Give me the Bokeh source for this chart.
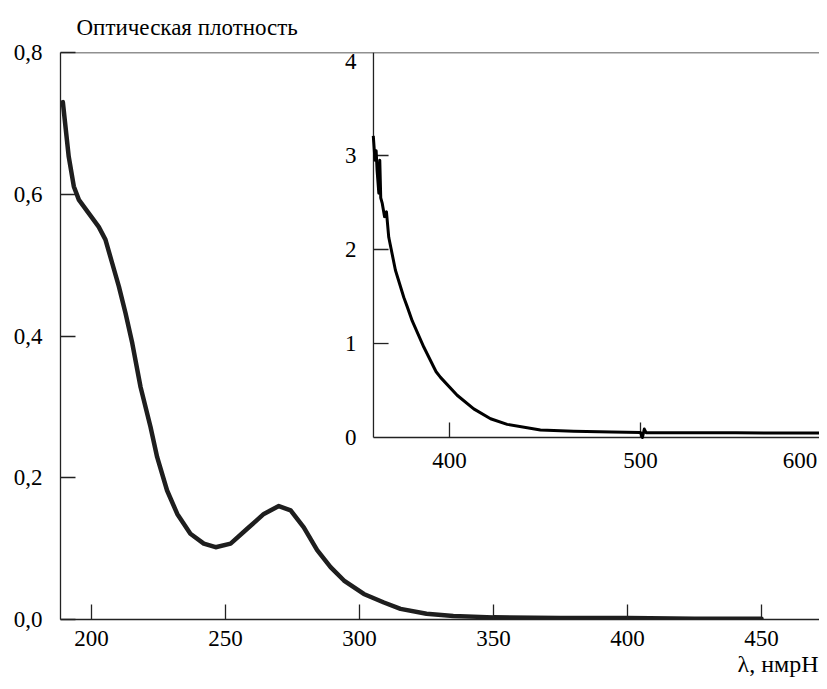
from bokeh.plotting import figure
from bokeh.models import Range1d, FixedTicker, Span, ColumnDataSource, Title
from bokeh.core.properties import value
from bokeh.embed import file_html
from bokeh.resources import INLINE

# ---- data ----
main_wl = [189.3, 191.5, 193.4, 195.3, 199.0, 202.7, 205.2, 207.7, 210.2, 212.7,
           215.2, 218.3, 222.0, 224.5, 228.2, 232.0, 236.9, 241.9, 246.3, 251.9,
           258.1, 264.3, 269.9, 274.3, 279.2, 284.2, 289.2, 294.2, 301.6, 309.1,
           315.3, 325.0, 335.0, 350.0, 375.0, 400.0, 425.0, 450.0]
main_od = [0.730, 0.653, 0.611, 0.592, 0.573, 0.554, 0.536, 0.503, 0.470, 0.432,
           0.390, 0.328, 0.272, 0.229, 0.182, 0.149, 0.121, 0.107, 0.102, 0.107,
           0.128, 0.149, 0.160, 0.154, 0.130, 0.098, 0.074, 0.055, 0.036, 0.024,
           0.015, 0.008, 0.005, 0.003, 0.002, 0.002, 0.001, 0.001]

inset_wl = [360.1, 361.0, 361.6, 362.1, 363.0, 363.5, 364.0, 364.8, 366.0, 367.0,
            368.2, 369.0, 371.7, 376.1, 377.9, 380.5, 386.6, 392.0, 393.0, 395.3,
            404.0, 412.7, 421.5, 430.2, 447.6, 465.0, 485.0, 500.0, 501.0, 502.0,
            503.0, 550.0, 594.0]
inset_od = [3.21, 2.95, 3.05, 2.84, 2.60, 2.95, 2.55, 2.49, 2.35, 2.40,
            2.13, 2.05, 1.78, 1.49, 1.39, 1.24, 0.96, 0.74, 0.70, 0.64,
            0.45, 0.305, 0.20, 0.14, 0.08, 0.067, 0.058, 0.053, 0.00, 0.09,
            0.05, 0.05, 0.048]

main_xticks = [200, 250, 300, 350, 400, 450]
main_yticks = [0.0, 0.2, 0.4, 0.6, 0.8]
main_ytick_labels = ["0,0", "0,2", "0,4", "0,6", "0,8"]

inset_xticks = [400, 500]
inset_xtick_labels = ["400", "500"]
inset_yticks = [1, 2, 3]
inset_ylabel_values = [0, 1, 2, 3, 4]
inset_ylabel_texts = ["0", "1", "2", "3", "4"]

y_title = "Оптическая плотность"
x_title = "λ, нмрН"

FONT = "Liberation Serif"
AX = "#222222"

# ---- figure ----
p = figure(frame_width=759, frame_height=567,
           x_range=Range1d(188.43, 471.64), y_range=Range1d(0, 0.8),
           output_backend="svg", toolbar_location=None,
           min_border_left=60, min_border_right=0,
           min_border_top=52, min_border_bottom=62)
p.extra_x_ranges = {"ix": Range1d(196.34, 593.72)}
p.extra_y_ranges = {"iy": Range1d(-1.936, 4.096)}
p.grid.visible = False
p.outline_line_color = None
p.background_fill_color = "white"
p.border_fill_color = "white"

# title (y quantity) above the frame
p.title.text = y_title
p.title.align = "left"
p.title.offset = 16
p.title.standoff = 25
p.title.text_font = FONT
p.title.text_font_size = "23px"
p.title.text_font_style = "normal"
p.title.text_color = "black"

p.xaxis.ticker = FixedTicker(ticks=main_xticks)
p.yaxis.ticker = FixedTicker(ticks=main_yticks)
p.yaxis.major_label_overrides = dict(zip(main_yticks, main_ytick_labels))
for ax in (p.xaxis[0], p.yaxis[0]):
    ax.major_tick_in = 15
    ax.major_tick_out = 0
    ax.minor_tick_in = 0
    ax.minor_tick_out = 0
    ax.axis_line_color = AX
    ax.axis_line_width = 1.3
    ax.major_tick_line_color = AX
    ax.major_tick_line_width = 1.3
    ax.major_label_text_font = FONT
    ax.major_label_text_font_size = "23px"
    ax.major_label_text_color = "black"
p.yaxis.major_label_standoff = 18
p.xaxis.major_label_standoff = 11

# x quantity, right-aligned below the axis
p.add_layout(Title(text=x_title, align="right", offset=1, standoff=0,
                   text_font=FONT, text_font_size="24px",
                   text_font_style="normal", text_color="black"), "below")

# top border of frame
p.add_layout(Span(location=0.8, dimension="width", line_color=AX, line_width=1.3))

# main curve
p.line(main_wl, main_od, line_width=4.5, line_color="#1e1e1e",
       line_join="round", line_cap="round")

# ---- inset (drawn on extra ranges) ----
ix0, ix1, iytop = 360.2, 593.72, 4.096
p.segment(x0=[ix0, ix0], y0=[0, 0], x1=[ix0, ix1], y1=[iytop, 0],
          line_color=AX, line_width=1.3, x_range_name="ix", y_range_name="iy")
p.segment(x0=[ix0] * len(inset_yticks), y0=inset_yticks,
          x1=[ix0 + 7.9] * len(inset_yticks), y1=inset_yticks,
          line_color=AX, line_width=1.3, x_range_name="ix", y_range_name="iy")
p.segment(x0=inset_xticks, y0=[0] * len(inset_xticks),
          x1=inset_xticks, y1=[0.16] * len(inset_xticks),
          line_color=AX, line_width=1.3, x_range_name="ix", y_range_name="iy")

p.line(inset_wl, inset_od, line_width=3, line_color="black",
       line_join="round", x_range_name="ix", y_range_name="iy")

ylab_src = ColumnDataSource(dict(x=[351.3] * len(inset_ylabel_values),
                                 y=inset_ylabel_values, t=inset_ylabel_texts))
p.text(x="x", y="y", text="t", source=ylab_src, text_align="right",
       text_baseline="middle", text_font=value(FONT), text_font_size="23px",
       text_color="black", x_range_name="ix", y_range_name="iy")
xlab_src = ColumnDataSource(dict(x=inset_xticks, y=[-0.17] * len(inset_xticks),
                                 t=inset_xtick_labels))
p.text(x="x", y="y", text="t", source=xlab_src, text_align="center",
       text_baseline="top", text_font=value(FONT), text_font_size="23px",
       text_color="black", x_range_name="ix", y_range_name="iy")
p.text(x=[583.5], y=[-0.17], text=["600"], text_align="center",
       text_baseline="top", text_font=value(FONT), text_font_size="23px",
       text_color="black", x_range_name="ix", y_range_name="iy")

open("out.html", "w").write(file_html(p, INLINE))
